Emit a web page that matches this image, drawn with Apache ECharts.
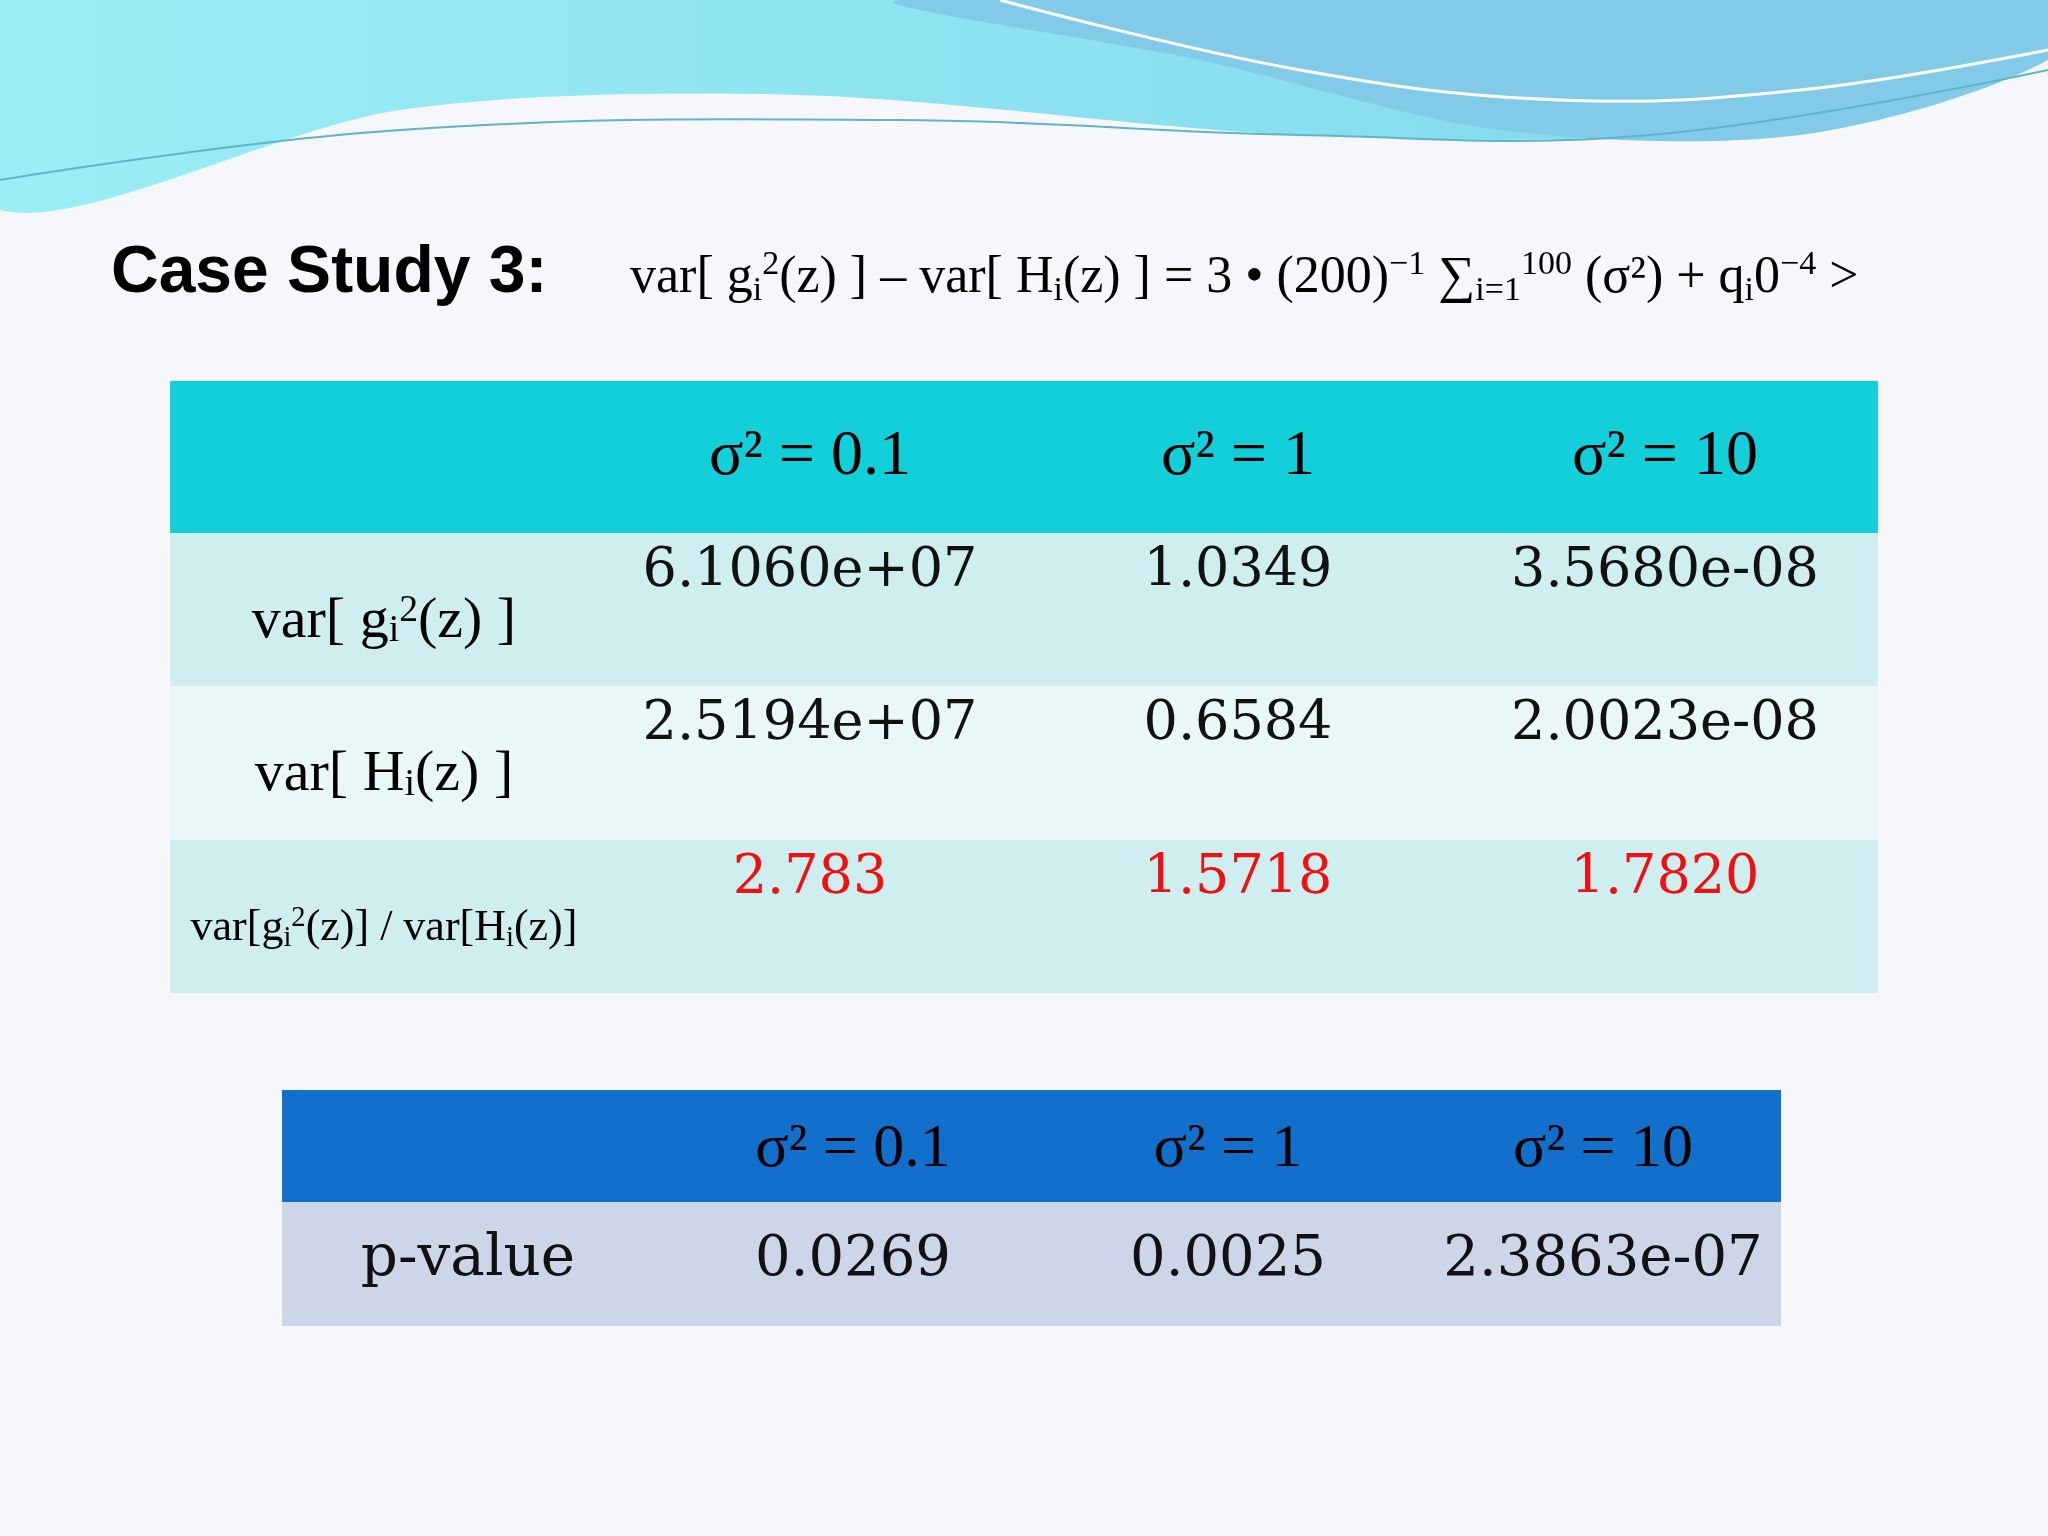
<!DOCTYPE html>
<html><head><meta charset="utf-8">
<script src="https://cdn.jsdelivr.net/npm/echarts@6/dist/echarts.min.js"></script>
<style>html,body{margin:0;padding:0;background:#f6f7fa}#c{width:2048px;height:1536px}</style>
</head><body><div id="c"></div>
<script>
const headers = ['σ² = 0.1', 'σ² = 1', 'σ² = 10'];
const rowLabels = ['var[g_i²(z)]', 'var[H_i(z)]', 'var[g_i²(z)] / var[H_i(z)]'];
const varG = ['6.1060e+07', '1.0349', '3.5680e-08'];
const varH = ['2.5194e+07', '0.6584', '2.0023e-08'];
const ratio = ['2.783', '1.5718', '1.7820'];
const pLabel = 'p-value';
const pValues = ['0.0269', '0.0025', '2.3863e-07'];

const chart = echarts.init(document.getElementById('c'));
const serif = 'Liberation Serif';
const g = [];
g.push({type:'rect',shape:{x:0,y:0,width:2048,height:1536},style:{fill:'#f6f7fa'},z:0});
g.push({type:'polygon',shape:{points:[[0,0],[2048,0],[2048,40],[1700,130],[1300,135],[800,95],[400,110],[0,210]],smooth:0.3},style:{fill:{type:'linear',x:0,y:0,x2:1,y2:0,colorStops:[{offset:0,color:'#9aeef5'},{offset:1,color:'#7fd6ec'}]}},z:1});
g.push({type:'polygon',shape:{points:[[900,0],[2048,0],[2048,60],[1800,135],[1500,130],[1200,60]],smooth:0.3},style:{fill:'#82cbe8'},z:2});
g.push({type:'polyline',shape:{points:[[1000,0],[1300,70],[1560,100],[1800,90],[2048,50]],smooth:0.4},style:{stroke:'#ffffff',lineWidth:3},z:3});
g.push({type:'polyline',shape:{points:[[0,180],[400,130],[900,120],[1300,135],[1650,135],[2048,70]],smooth:0.4},style:{stroke:'#5fb4cc',lineWidth:2},z:3});
g.push({type:'text',x:111,y:274,style:{text:'Case Study 3:',font:'bold 66px "Liberation Sans", Arial',fill:'#000',verticalAlign:'middle',textShadowColor:'#000',textShadowBlur:0,textShadowOffsetX:1.5},z:5});
g.push({type:'text',x:630,y:278,style:{text:'var[ g{s|i}{p|2}(z) ] – var[ H{s|i}(z) ] = 3 • (200){p|−1} ∑{s|i=1}{p|100} (σ²) + q{s|i}0{p|−4} >',
  font:'52px "'+serif+'"',fill:'#000',verticalAlign:'middle',
  rich:{s:{fontSize:34,fontFamily:serif,verticalAlign:'bottom',padding:[24,0,0,0]},p:{fontSize:34,fontFamily:serif,verticalAlign:'top',padding:[0,0,26,0]}}},z:5});
const t1x=170,t1w=1708,rowY=[381,533,686,840,993];
const rowFill=['#12cfd9','#cfeeef','#e9f7f7','#cfeeef'];
for(let i=0;i<4;i++) g.push({type:'rect',shape:{x:t1x,y:rowY[i],width:t1w,height:rowY[i+1]-rowY[i]},style:{fill:rowFill[i]},z:4});
const c1=[810,1238,1665];
const mid=i=>(rowY[i]+rowY[i+1])/2;
headers.forEach((h,j)=>g.push({type:'text',x:c1[j],y:mid(0),style:{text:h,font:'64px "'+serif+'"',fill:'#000',align:'center',verticalAlign:'middle'},z:6}));
const labelRich = ['var[ g{s|i}{p|2}(z) ]','var[ H{s|i}(z) ]','var[g{s|i}{p|2}(z)] / var[H{s|i}(z)]'];
const lsize=[58,58,44];
labelRich.forEach((t,i)=>g.push({type:'text',x:384,y:mid(i+1)+12,style:{text:t,font:lsize[i]+'px "'+serif+'"',fill:'#000',align:'center',verticalAlign:'middle',
  rich:{s:{fontSize:lsize[i]*0.65,fontFamily:serif,verticalAlign:'bottom',padding:[20,0,0,0]},p:{fontSize:lsize[i]*0.65,fontFamily:serif,verticalAlign:'top',padding:[0,0,20,0]}}},z:6}));
[varG,varH,ratio].forEach((arr,i)=>arr.forEach((v,j)=>g.push({type:'text',x:c1[j],y:mid(i+1)-38,style:{text:v,font:'54px "DejaVu Serif"',fill:i===2?'#ee1111':'#111',align:'center',verticalAlign:'middle'},z:6})));
const t2x=282,t2w=1499,r2=[1090,1202,1326];
g.push({type:'rect',shape:{x:t2x,y:r2[0],width:t2w,height:r2[1]-r2[0]},style:{fill:'#1270cc'},z:4});
g.push({type:'rect',shape:{x:t2x,y:r2[1],width:t2w,height:r2[2]-r2[1]},style:{fill:'#cdd5e8'},z:4});
const c2=[853,1228,1603];
headers.forEach((h,j)=>g.push({type:'text',x:c2[j],y:(r2[0]+r2[1])/2+4,style:{text:h,font:'62px "'+serif+'"',fill:'#000',align:'center',verticalAlign:'middle'},z:6}));
g.push({type:'text',x:468,y:(r2[1]+r2[2])/2-4,style:{text:pLabel,font:'58px "DejaVu Serif"',fill:'#111',align:'center',verticalAlign:'middle'},z:6});
pValues.forEach((v,j)=>g.push({type:'text',x:c2[j],y:(r2[1]+r2[2])/2-4,style:{text:v,font:'56px "DejaVu Serif"',fill:'#111',align:'center',verticalAlign:'middle'},z:6}));
chart.setOption({animation:false,graphic:{elements:g}});
</script></body></html>
